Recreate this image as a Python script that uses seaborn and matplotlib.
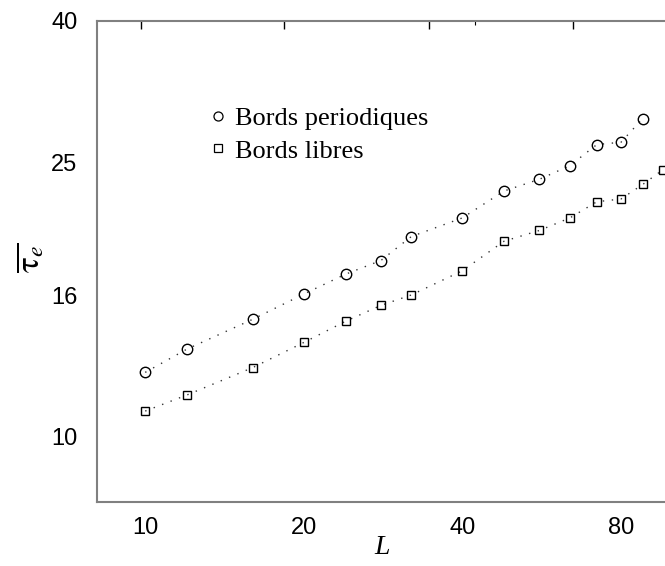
import numpy as np
import pandas as pd
import matplotlib
matplotlib.use("Agg")
import matplotlib.pyplot as plt
import seaborn as sns
from matplotlib.lines import Line2D
from matplotlib.ticker import FixedLocator, NullFormatter

# data
L_periodic = [10, 12, 16, 20, 24, 28, 32, 40, 48, 56, 64, 72, 80, 88]
tau_periodic = [12.4, 13.4, 14.8, 16.1, 17.2, 18.0, 19.5, 20.75, 22.7, 23.6, 24.7, 26.5, 26.7, 28.9]
L_libres = [10, 12, 16, 20, 24, 28, 32, 40, 48, 56, 64, 72, 80, 88, 96]
tau_libres = [10.9, 11.5, 12.6, 13.7, 14.7, 15.5, 16.05, 17.4, 19.2, 19.9, 20.75, 21.9, 22.1, 23.2, 24.35]
labels = ["Bords periodiques", "Bords libres"]
x_ticks = [10, 20, 40, 80]
y_ticks = [10, 16, 25, 40]

sns.set_theme(style="white")
plt.rcParams['font.family'] = ['Liberation Sans', 'DejaVu Sans']
plt.rcParams['mathtext.fontset'] = 'stix'
plt.rcParams['text.color'] = 'black'
plt.rcParams['xtick.color'] = 'black'
plt.rcParams['ytick.color'] = 'black'

W, H = 665, 566
fig = plt.figure(figsize=(W / 100, H / 100), dpi=100)
ax = fig.add_axes([97 / W, (H - 502) / H, (672 - 97) / W, (502 - 21) / H])

df_p = pd.DataFrame({'L': L_periodic, 'tau': tau_periodic})
df_l = pd.DataFrame({'L': L_libres, 'tau': tau_libres})

line_kw = dict(color='#333333', linewidth=1.0, linestyle=(0, (1, 5.5)),
               estimator=None, sort=False, ax=ax)
sns.lineplot(data=df_p, x='L', y='tau', marker='o', markersize=7.5,
             markerfacecolor='none', markeredgecolor='black', markeredgewidth=1.0, **line_kw)
sns.lineplot(data=df_l, x='L', y='tau', marker='s', markersize=6.3,
             markerfacecolor='none', markeredgecolor='black', markeredgewidth=1.0, **line_kw)

ax.set_xscale('log')
ax.set_yscale('log')
ax.set_xlim(8.1, 100)
ax.set_ylim(8.05, 40)

ax.xaxis.set_major_locator(FixedLocator(x_ticks))
ax.xaxis.set_minor_locator(FixedLocator([50]))
ax.xaxis.set_minor_formatter(NullFormatter())
ax.set_xticklabels([str(t) for t in x_ticks])
ax.yaxis.set_major_locator(FixedLocator(y_ticks))
ax.yaxis.set_minor_locator(FixedLocator([]))
ax.set_yticklabels([str(t) for t in y_ticks])

ax.tick_params(axis='both', which='major', direction='in', length=6, width=1,
               color='black', labelcolor='black', labelsize=17)
ax.tick_params(axis='x', which='minor', direction='in', length=3, width=0.8, color='black')
ax.tick_params(axis='x', pad=11)
ax.tick_params(axis='y', pad=14)

# top axis ticks (unlabelled)
top = ax.secondary_xaxis('top')
top.xaxis.set_major_locator(FixedLocator([9.8, 18.35, 34.6, 64.8]))
top.xaxis.set_minor_locator(FixedLocator([42.3]))
top.xaxis.set_major_formatter(NullFormatter())
top.xaxis.set_minor_formatter(NullFormatter())
top.tick_params(which='major', direction='in', length=6, width=1, color='black')
top.tick_params(which='minor', direction='in', length=3, width=0.8, color='black')
top.spines['top'].set_visible(False)

for s in ['left', 'bottom', 'top']:
    ax.spines[s].set_color('#808080')
    ax.spines[s].set_linewidth(1.5)
ax.spines['right'].set_visible(False)

ax.set_xlabel('')
ax.set_ylabel('')
fig.text(382 / W, 1 - 548 / H, 'L', family=['Liberation Serif'], style='italic',
         fontsize=20, ha='center', va='center', color='black')
fig.text(31 / W, 1 - 258 / H, r'$\overline{\mathrm{\tau}_e}$', fontsize=24,
         rotation=90, ha='center', va='center', color='black')

handles = [
    Line2D([], [], marker='o', linestyle='none', markersize=6.5, markerfacecolor='none',
           markeredgecolor='black', markeredgewidth=0.9),
    Line2D([], [], marker='s', linestyle='none', markersize=5.5, markerfacecolor='none',
           markeredgecolor='black', markeredgewidth=0.9),
]
leg = ax.legend(handles, labels, loc='upper left', bbox_to_anchor=(210 / W, 1 - 107 / H),
                bbox_transform=fig.transFigure, frameon=False, borderpad=0, borderaxespad=0,
                handlelength=0.6, handletextpad=0.35, labelspacing=0.33,
                prop={'family': 'Liberation Serif', 'size': 19})
for t in leg.get_texts():
    t.set_color('black')

fig.savefig('out.png', dpi=100, facecolor='white')
